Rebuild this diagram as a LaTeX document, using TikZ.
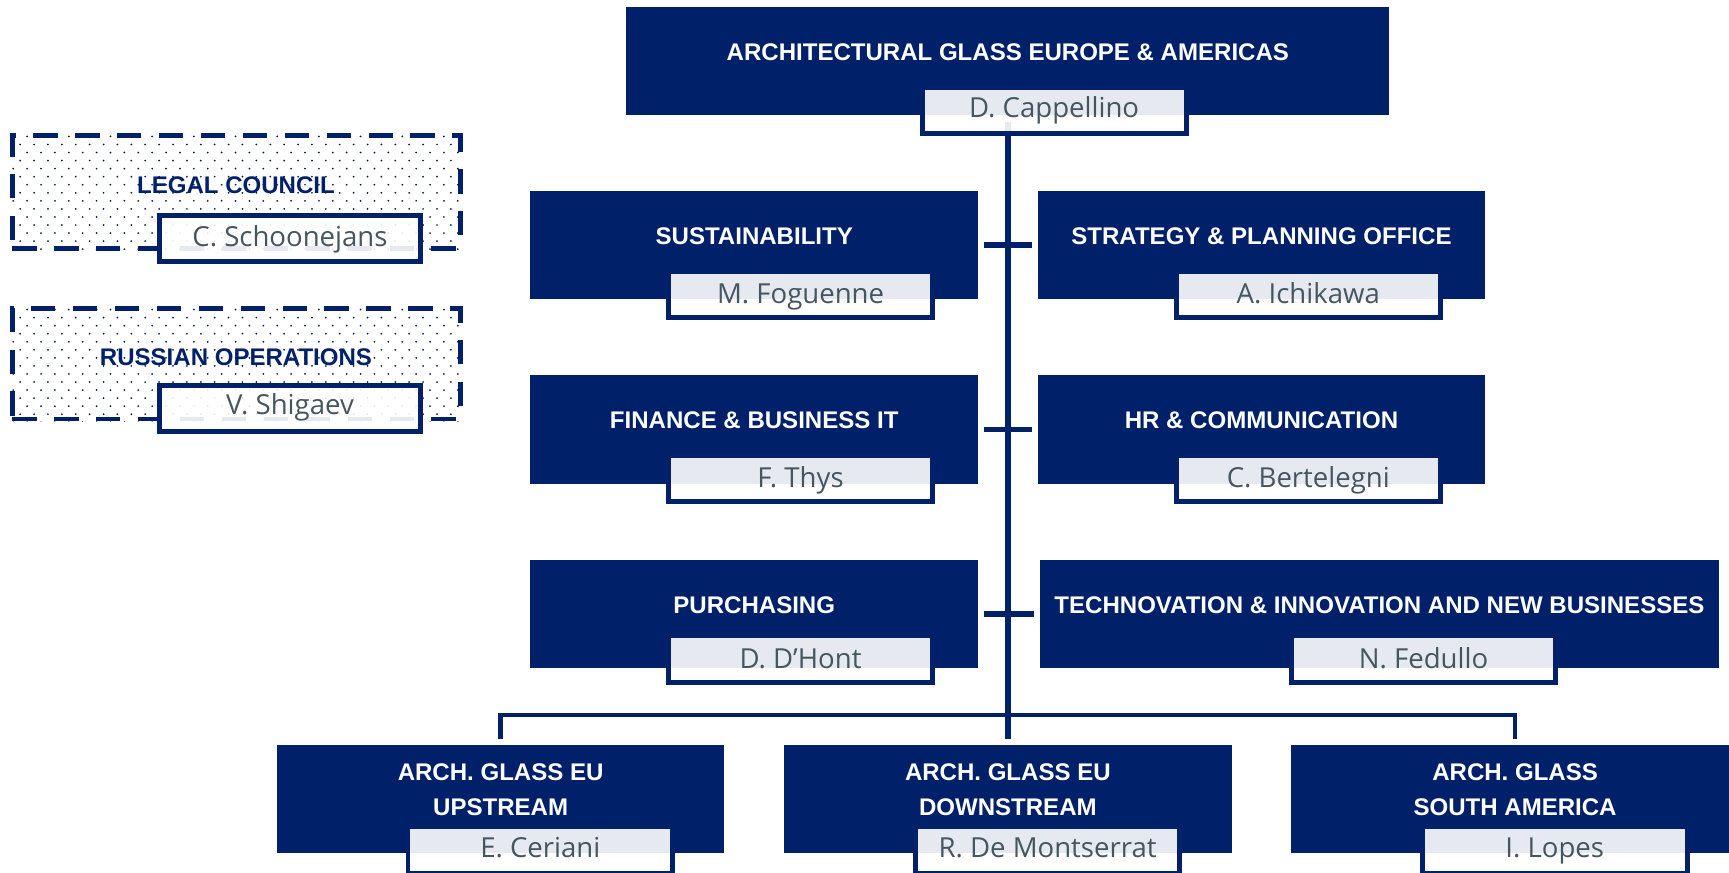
\documentclass[tikz,border=0pt]{standalone}
\usepackage{fontspec}
\setmainfont{Liberation Sans}
\newfontfamily\namefont{Open Sans}
\usetikzlibrary{calc}
\definecolor{navy}{RGB}{0,32,105}
\definecolor{namegray}{RGB}{70,86,96}

\tikzset{
  unitbox/.style={fill=navy, draw=none, minimum width=406pt, minimum height=98pt, inner sep=0pt},
  title/.style={text=white, font=\bfseries\fontsize{21.8}{32}\selectfont, align=center, inner sep=0pt},
  namebox/.style={draw=navy, line width=4.5pt, fill=white, fill opacity=0.9, minimum width=240pt, minimum height=42pt, inner sep=0pt},
  person/.style={text=namegray, font=\namefont\fontsize{25}{28}\selectfont, inner sep=0pt, anchor=base},
  trunk/.style={draw=navy, line width=5pt},
  bus/.style={draw=navy, line width=4pt},
  crossbar/.style={draw=navy, line width=5pt},
  optbox/.style={draw=navy, line width=4.5pt, dash pattern=on 22pt off 16pt, minimum width=406.5pt, inner sep=0pt},
  opttitle/.style={text=navy, font=\bfseries\fontsize{21.8}{26}\selectfont, inner sep=0pt},
  dot/.style={fill=navy!80!black},
}

\begin{document}
\begin{tikzpicture}[x=1pt, y=-1pt]
\useasboundingbox (0,0) rectangle (1568,791);
\clip (0,0) rectangle (1568,791);

% ---- dotted side boxes (dashed frames)
\node[optbox, minimum height=102pt] (legal) at (214.5,174) {};
\node[optbox, minimum height=100pt] (russia) at (214.5,330) {};
\foreach \bx in {legal,russia}{
  \begin{scope}
    \clip (\bx.south west) rectangle (\bx.north east);
    \path (\bx.north west) coordinate (nw);
    \foreach \i in {0,...,14}{
      \foreach \j in {0,...,33}{
        \fill[dot] ($(nw)+({3+\j*12.6+mod(\i,2)*6.3},{3+\i*7.3})$) circle (0.9);
      }
    }
  \end{scope}
}
\node[optbox, minimum height=102pt] at (legal) {};
\node[optbox, minimum height=100pt] at (russia) {};
\node[opttitle] (legalT) at (214,168) {LEGAL COUNCIL};
\node[opttitle] (russiaT) at (214,324) {RUSSIAN OPERATIONS};

% ---- unit boxes
\node[unitbox, minimum width=692pt] (top) at (914,55) {};
\node[unitbox] (s1) at (684,222) {};
\node[unitbox] (s2) at (1144,222) {};
\node[unitbox] (f1) at (684,389.5) {};
\node[unitbox] (f2) at (1144,389.5) {};
\node[unitbox] (p1) at (684,557) {};
\node[unitbox, minimum width=616pt] (p2) at (1251,557) {};
\node[unitbox] (bl) at (454,725) {};
\node[unitbox] (bm) at (914,725) {};
\node[unitbox] (br) at (1374,725) {};

% ---- connectors
\draw[trunk] ($(top.south)+(0,6)$) -- ($(bm.north)+(0,-6)$);
\draw[bus] ($(bl.north)+(0,-6)$) -- ++(0,-21.5) -| ($(br.north)+(0,-6)$);
\draw[crossbar] ($(s1.east)+(5,0)$) -- ($(s2.west)+(-5,0)$);
\draw[crossbar] ($(f1.east)+(5,0)$) -- ($(f2.west)+(-5,0)$);
\draw[crossbar] ($(p1.east)+(5,0)$) -- ($(p2.west)+(-5,0)$);

% ---- name plates
\node[namebox, minimum width=239.5pt] (n0) at (956,100) {};
\node[namebox] (ns1) at (726,267) {};
\node[namebox] (ns2) at (1186.5,267) {};
\node[namebox] (nf1) at (726,434) {};
\node[namebox] (nf2) at (1186.5,434) {};
\node[namebox, minimum height=43pt] (np1) at (726,597.5) {};
\node[namebox, minimum height=43pt] (np2) at (1291,597.5) {};
\node[namebox] (nbl) at (490,771) {};
\node[namebox] (nbm) at (950,771) {};
\node[namebox] (nbr) at (1410,771) {};
\node[namebox, minimum width=236pt] (nlegal) at (263,216) {};
\node[namebox, minimum width=236pt, minimum height=41pt] (nrussia) at (263,370.5) {};

% ---- unit titles
\node[title] (topT) at (914,47) {ARCHITECTURAL GLASS EUROPE \& AMERICAS};
\node[title] (s1T) at (684,214) {SUSTAINABILITY};
\node[title] (s2T) at (1144,214) {STRATEGY \& PLANNING OFFICE};
\node[title] (f1T) at (684,381.5) {FINANCE \& BUSINESS IT};
\node[title] (f2T) at (1144,381.5) {HR \& COMMUNICATION};
\node[title] (p1T) at (684,549) {PURCHASING};
\node[title] (p2T) at (1251,549) {TECHNOVATION \& INNOVATION AND NEW BUSINESSES};
\node[title] (blT) at (454,716.5) {ARCH. GLASS EU\\UPSTREAM};
\node[title] (bmT) at (914,716.5) {ARCH. GLASS EU\\DOWNSTREAM};
\node[title] (brT) at (1374,716.5) {ARCH. GLASS\\SOUTH AMERICA};

% ---- names
\node[person] (t0) at (956,107) {D. Cappellino};
\node[person] (ts1) at (726,275) {M. Foguenne};
\node[person] (ts2) at (1186.5,275) {A. Ichikawa};
\node[person] (tf1) at (726,442) {F. Thys};
\node[person] (tf2) at (1186.5,442) {C. Bertelegni};
\node[person] (tp1) at (726,606) {D. D’Hont};
\node[person] (tp2) at (1291,606) {N. Fedullo};
\node[person] (tbl) at (490,778) {E. Ceriani};
\node[person] (tbm) at (950,778) {R. De Montserrat};
\node[person] (tbr) at (1410,778) {I. Lopes};
\node[person] (tlegal) at (263,224) {C. Schoonejans};
\node[person] (trussia) at (263,376) {V. Shigaev};
\end{tikzpicture}
\end{document}
